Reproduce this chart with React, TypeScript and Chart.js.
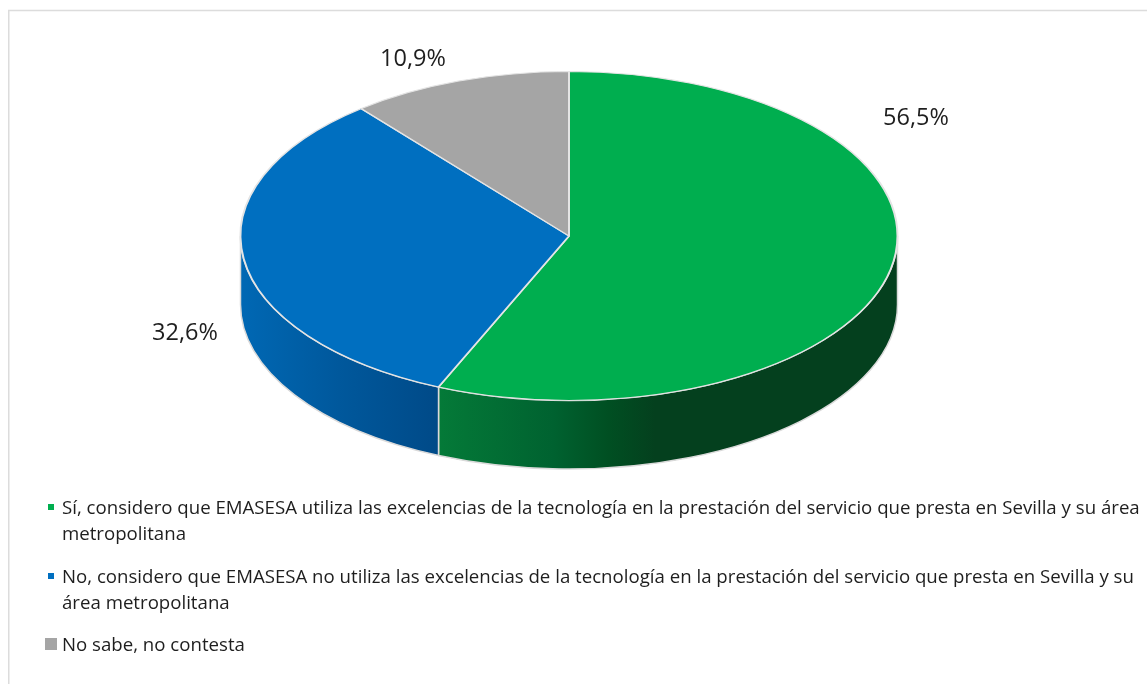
import React, { useEffect, useRef } from "react";
import { Chart, registerables } from "chart.js";

Chart.register(...registerables);

const categories = [
  "Sí, considero que EMASESA utiliza las excelencias de la tecnología en la prestación del servicio que presta en Sevilla y su área metropolitana",
  "No, considero que EMASESA no utiliza las excelencias de la tecnología en la prestación del servicio que presta en Sevilla y su área metropolitana",
  "No sabe, no contesta",
];
const values = [56.5, 32.6, 10.9];
const sliceColors = ["#00AE4F", "#006FC0", "#A5A5A5"];
const valueLabels = ["56,5%", "32,6%", "10,9%"];
const legendLines = [
  ["Sí, considero que EMASESA utiliza las excelencias de la tecnología en la prestación del servicio que presta en Sevilla y su área", "metropolitana"],
  ["No, considero que EMASESA no utiliza las excelencias de la tecnología en la prestación del servicio que presta en Sevilla y su", "área metropolitana"],
  ["No sabe, no contesta"],
];

const FONT = "'Open Sans'";
const WIDTH = 1147;
const HEIGHT = 684;
const CY = 236;
const SQUASH = 165 / 329.5;
const DEPTH = 68.5;
const labelCenters = [[916, 118], [185, 333], [413, 59]];
const labelWidth = 66;
const wallStops = [
  [[0, "#047A38"], [0.25, "#006230"], [0.37, "#004F22"], [0.47, "#04401E"], [1, "#04401E"]],
  [[0, "#0068B4"], [0.5, "#00589C"], [1, "#004A88"]],
];
const wallRanges = [[438, 900], [240, 438]];
const legendBaselines = [[514, 540], [583, 609], [651]];
const legendMarkers = [[48, 504, 6], [48, 573, 6], [45, 638, 12]];
const legendFit = [[1078, 124], [1072, 168], [183]];

const pie3d = {
  id: "pie3d",
  beforeDraw(chart: any) {
    const { ctx } = chart;
    ctx.save();
    ctx.strokeStyle = "#DCDCDC";
    ctx.lineWidth = 1.5;
    ctx.beginPath();
    ctx.moveTo(8.75, HEIGHT + 2);
    ctx.lineTo(8.75, 10.5);
    ctx.lineTo(WIDTH + 2, 10.5);
    ctx.stroke();
    ctx.restore();
  },
  beforeDatasetsDraw(chart: any) {
    const { ctx } = chart;
    const arcs = chart.getDatasetMeta(0).data;
    arcs.forEach((arc: any, i: number) => {
      const stops = wallStops[i];
      if (!stops) return;
      const a0 = Math.max(arc.startAngle, 0);
      const a1 = Math.min(arc.endAngle, Math.PI);
      if (a1 <= a0) return;
      const rx = arc.outerRadius;
      const ry = rx * SQUASH;
      const grad = ctx.createLinearGradient(wallRanges[i][0], 0, wallRanges[i][1], 0);
      stops.forEach((s: any) => grad.addColorStop(s[0], s[1]));
      ctx.save();
      ctx.beginPath();
      ctx.ellipse(arc.x, CY, rx, ry, 0, a0, a1);
      ctx.ellipse(arc.x, CY + DEPTH, rx, ry, 0, a1, a0, true);
      ctx.closePath();
      ctx.fillStyle = grad;
      ctx.fill();
      ctx.strokeStyle = "#DADADA";
      ctx.lineWidth = 1.5;
      ctx.stroke();
      ctx.restore();
    });
    ctx.save();
    ctx.translate(0, CY);
    ctx.scale(1, SQUASH);
    ctx.translate(0, -arcs[0].y);
  },
  afterDatasetsDraw(chart: any) {
    const { ctx } = chart;
    ctx.restore();
    ctx.save();
    ctx.fillStyle = "#1E1E1E";
    ctx.textBaseline = "middle";
    ctx.textAlign = "center";
    ctx.font = `23.5px ${FONT}`;
    valueLabels.forEach((t, i) => {
      ctx.fillText(t, labelCenters[i][0], labelCenters[i][1], labelWidth);
    });
    ctx.textAlign = "left";
    ctx.textBaseline = "alphabetic";
    ctx.font = `18.65px ${FONT}`;
    legendLines.forEach((lines, i) => {
      const m = legendMarkers[i];
      ctx.fillStyle = sliceColors[i];
      ctx.fillRect(m[0], m[1], m[2], m[2]);
      ctx.fillStyle = "#1E1E1E";
      lines.forEach((line, j) => {
        ctx.fillText(line, 62, legendBaselines[i][j], legendFit[i][j]);
      });
    });
    ctx.restore();
  },
};

export default function App() {
  const ref = useRef<HTMLCanvasElement>(null);
  useEffect(() => {
    const chart = new Chart(ref.current as HTMLCanvasElement, {
      type: "pie",
      data: {
        labels: categories,
        datasets: [
          {
            data: values,
            backgroundColor: sliceColors,
            borderColor: "#E4E4E4",
            borderWidth: 2,
          },
        ],
      },
      options: {
        responsive: false,
        animation: false,
        layout: { padding: { left: 239.5, right: 248.5, top: 0, bottom: 0 } },
        plugins: { legend: { display: false }, tooltip: { enabled: false } },
      },
      plugins: [pie3d],
    } as any);
    return () => chart.destroy();
  }, []);
  return (
    <div style={{ position: "fixed", left: 0, top: 0, width: WIDTH, height: HEIGHT, background: "#fff" }}>
      <canvas ref={ref} width={WIDTH} height={HEIGHT} style={{ display: "block" }} />
    </div>
  );
}
